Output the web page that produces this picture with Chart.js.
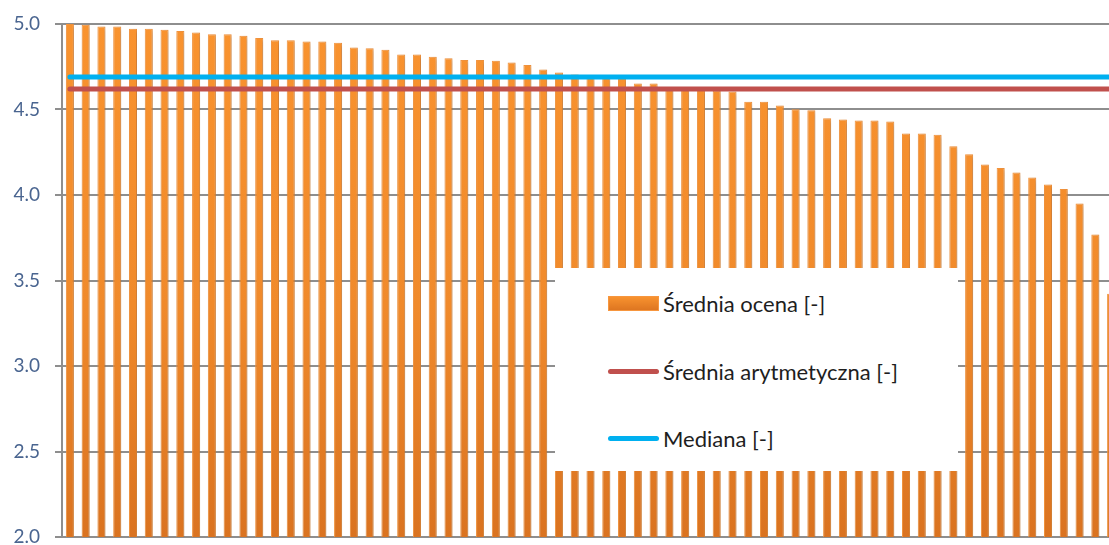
<!DOCTYPE html>
<html lang="pl">
<head>
<meta charset="utf-8">
<title>Średnia ocena</title>
<script src="https://cdn.jsdelivr.net/npm/chart.js@4.4.1/dist/chart.umd.min.js"></script>
<style>
    html, body { margin: 0; padding: 0; width: 1109px; height: 545px; overflow: hidden; background: #fff; }
    #chartWrap { position: absolute; left: 0; top: 0; width: 1119px; height: 560px; }
    #legendBox {
        position: absolute; left: 555px; top: 268px; width: 403px; height: 203px;
        background: #fff; font-family: Lato, 'Liberation Sans', sans-serif; font-size: 22px; color: #1e1e1e;
    }
    .legend-item { position: absolute; left: 53px; height: 30px; display: flex; align-items: center; white-space: nowrap; }
    .legend-swatch { width: 51px; margin-right: 4px; box-sizing: border-box; }
    .swatch-bar { height: 15px; border: 1px solid #F7963E; background: linear-gradient(#F8922F, #DE7621); }
    .swatch-line { height: 5px; border-radius: 3px; }
</style>
</head>
<body>
<div id="chartWrap"><canvas id="ratingChart" width="1119" height="560"></canvas></div>
<div id="legendBox"></div>
<script>
// Data
const categories = [
    1, 2, 3, 4, 5, 6, 7, 8, 9, 10, 11, 12, 13, 14, 15, 16, 17, 18, 19, 20,
    21, 22, 23, 24, 25, 26, 27, 28, 29, 30, 31, 32, 33, 34, 35, 36, 37, 38, 39, 40,
    41, 42, 43, 44, 45, 46, 47, 48, 49, 50, 51, 52, 53, 54, 55, 56, 57, 58, 59, 60,
    61, 62, 63, 64, 65, 66, 67
];
const averageRatings = [
    5.00, 4.995, 4.985, 4.985, 4.972, 4.972, 4.966, 4.959, 4.951, 4.940,
    4.940, 4.932, 4.918, 4.905, 4.905, 4.897, 4.897, 4.890, 4.863, 4.858,
    4.850, 4.822, 4.822, 4.808, 4.800, 4.790, 4.790, 4.785, 4.775, 4.760,
    4.734, 4.717, 4.705, 4.690, 4.690, 4.690, 4.652, 4.652, 4.630, 4.625,
    4.620, 4.610, 4.605, 4.545, 4.545, 4.523, 4.502, 4.496, 4.449, 4.441,
    4.435, 4.435, 4.430, 4.359, 4.359, 4.353, 4.285, 4.238, 4.178, 4.158,
    4.131, 4.103, 4.062, 4.035, 3.951, 3.769, 3.422
];
const meanRating = 4.62;
const medianRating = 4.69;
const yTickValues = [2.0, 2.5, 3.0, 3.5, 4.0, 4.5, 5.0];
const seriesLabels = ['Średnia ocena [-]', 'Średnia arytmetyczna [-]', 'Mediana [-]'];

document.addEventListener('DOMContentLoaded', function() {
    const chart = buildChart();
    buildLegend(chart);
});

// soft grey shadow behind the bars, like the office chart
const barShadow = {
    id: 'barShadow',
    beforeDatasetDraw(chart, args) {
        if (args.meta.type !== 'bar') return;
        const ctx = chart.ctx;
        ctx.save();
        ctx.shadowColor = 'rgba(0, 0, 0, 0.22)';
        ctx.shadowBlur = 5;
        ctx.shadowOffsetX = 2;
        ctx.shadowOffsetY = 1;
    },
    afterDatasetDraw(chart, args) {
        if (args.meta.type !== 'bar') return;
        chart.ctx.restore();
    }
};

function barGradient(context) {
    const area = context.chart.chartArea;
    if (!area) return '#F79646';
    const g = context.chart.ctx.createLinearGradient(0, area.top, 0, area.bottom);
    g.addColorStop(0, '#F9932F');
    g.addColorStop(0.55, '#F08A2B');
    g.addColorStop(1, '#DA7320');
    return g;
}

function buildChart() {
    const ctx = document.getElementById('ratingChart');
    return new Chart(ctx, {
        type: 'bar',
        data: {
            labels: categories,
            datasets: [
                {
                    type: 'line',
                    label: seriesLabels[2],
                    data: categories.map(() => medianRating),
                    borderColor: '#00B0F0',
                    borderWidth: 5,
                    borderCapStyle: 'round',
                    pointRadius: 0,
                    fill: false,
                    order: 0
                },
                {
                    type: 'line',
                    label: seriesLabels[1],
                    data: categories.map(() => meanRating),
                    borderColor: '#C0504D',
                    borderWidth: 5,
                    borderCapStyle: 'round',
                    pointRadius: 0,
                    fill: false,
                    order: 1
                },
                {
                    type: 'bar',
                    label: seriesLabels[0],
                    data: averageRatings,
                    backgroundColor: barGradient,
                    borderColor: '#F7963E',
                    borderWidth: 1,
                    borderSkipped: 'bottom',
                    barPercentage: 0.51,
                    categoryPercentage: 1.0,
                    order: 2
                }
            ]
        },
        options: {
            responsive: false,
            animation: false,
            devicePixelRatio: 1,
            layout: { autoPadding: false, padding: { top: 24, bottom: 23, left: 0, right: 0 } },
            plugins: {
                legend: { display: false },
                tooltip: { enabled: false }
            },
            scales: {
                x: { display: false },
                y: {
                    min: 2,
                    max: 5,
                    afterBuildTicks: function(scale) {
                        scale.ticks = yTickValues.map(v => ({ value: v }));
                    },
                    afterFit: function(scale) {
                        scale.width = 62;
                        // let the layout padding decide where the plot starts and ends
                        scale.paddingTop = 0;
                        scale.paddingBottom = 0;
                    },
                    ticks: {
                        padding: 15,
                        color: '#4A6590',
                        font: { family: 'Lato, "Liberation Sans", sans-serif', size: 19 },
                        callback: function(value) {
                            return Number(value).toFixed(1);
                        }
                    },
                    grid: {
                        color: '#8E8E8E',
                        lineWidth: 2,
                        tickLength: 7,
                        drawTicks: true
                    },
                    border: { display: true, color: '#8E8E8E', width: 2 }
                }
            }
        },
        plugins: [barShadow]
    });
}

function buildLegend(chart) {
    const box = document.getElementById('legendBox');
    // legend order: bars, mean, median
    const order = [2, 1, 0];
    const rowTops = [20, 88, 155];
    order.forEach((dsIndex, i) => {
        const ds = chart.data.datasets[dsIndex];
        const item = document.createElement('div');
        item.className = 'legend-item';
        item.style.top = rowTops[i] + 'px';
        const swatch = document.createElement('span');
        if (ds.type === 'bar') {
            swatch.className = 'legend-swatch swatch-bar';
        } else {
            swatch.className = 'legend-swatch swatch-line';
            swatch.style.background = ds.borderColor;
        }
        const text = document.createElement('span');
        text.textContent = ds.label;
        item.appendChild(swatch);
        item.appendChild(text);
        box.appendChild(item);
    });
}
</script>
</body>
</html>
